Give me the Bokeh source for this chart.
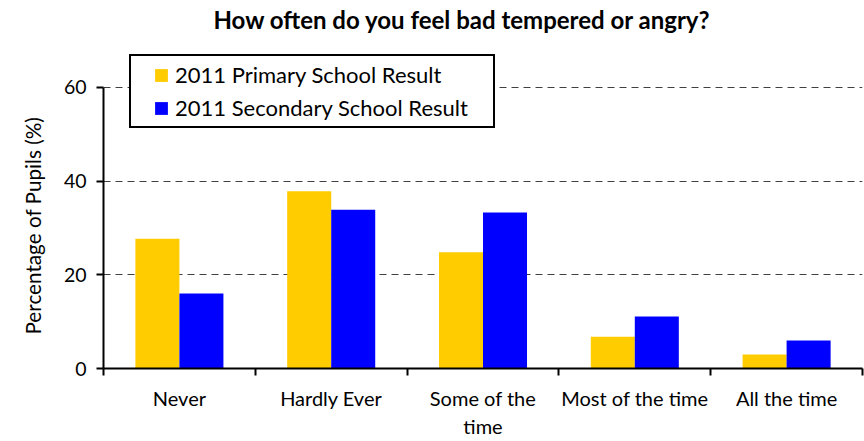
import numpy as np
from bokeh.plotting import figure
from bokeh.models import ColumnDataSource, FixedTicker, Legend, LegendItem, Range1d, Title
from bokeh.embed import file_html
from bokeh.resources import INLINE

categories = ["Never", "Hardly Ever", "Some of the\ntime", "Most of the time", "All the time"]
primary = [27.7, 37.8, 24.8, 6.8, 3.0]
secondary = [16.0, 33.9, 33.3, 11.1, 6.0]
series_names = ["2011 Primary School Result", "2011 Secondary School Result"]
y_ticks = [0, 20, 40, 60]

FONT = "Lato"
centers = np.arange(len(categories)) + 0.5
bw = 0.29

src = ColumnDataSource(dict(xp=centers - bw / 2, xs=centers + bw / 2, prim=primary, sec=secondary))

p = figure(width=864, height=441, output_backend="svg", toolbar_location=None,
           x_range=Range1d(0, len(categories)), y_range=Range1d(0, 71.06),
           min_border_left=103, min_border_right=2, min_border_top=35, min_border_bottom=60)
p.outline_line_color = None
p.background_fill_color = "white"

r1 = p.vbar(x="xp", top="prim", width=bw, source=src, fill_color="#FFCC00", line_color=None)
r2 = p.vbar(x="xs", top="sec", width=bw, source=src, fill_color="#0000FF", line_color=None)

title = Title(text="How often do you feel bad tempered or angry?", text_font=FONT,
              text_font_size="24px", text_font_style="bold", text_color="black",
              align="left", offset=110, standoff=3)
p.add_layout(title, "above")

# x axis
p.xaxis.ticker = FixedTicker(ticks=list(centers), minor_ticks=list(range(len(categories) + 1)))
p.xaxis.major_label_overrides = {float(c): lab for c, lab in zip(centers, categories)}
p.xaxis.major_tick_out = 0
p.xaxis.major_tick_in = 0
p.xaxis.minor_tick_out = 7
p.xaxis.minor_tick_in = 0
p.xaxis.minor_tick_line_width = 2
p.xaxis.axis_line_width = 2
p.xaxis.axis_line_color = "black"
p.xaxis.minor_tick_line_color = "black"
p.xaxis.major_label_text_font = FONT
p.xaxis.major_label_text_font_size = "20px"
p.xaxis.major_label_text_color = "black"
p.xaxis.major_label_standoff = 10

# y axis
p.yaxis.ticker = FixedTicker(ticks=y_ticks)
p.yaxis.bounds = (0, 60)
p.yaxis.minor_tick_line_color = None
p.yaxis.major_tick_out = 7
p.yaxis.major_tick_in = 0
p.yaxis.major_tick_line_width = 2
p.yaxis.axis_line_width = 2
p.yaxis.axis_line_color = "black"
p.yaxis.major_tick_line_color = "black"
p.yaxis.major_label_text_font = FONT
p.yaxis.major_label_text_font_size = "19.5px"
p.yaxis.major_label_text_color = "black"
p.yaxis.major_label_standoff = 10

# y axis title, placed as a side title so it can be centred on the 0-60 span
ytitle = Title(text="Percentage of Pupils (%)", text_font=FONT, text_font_size="20.7px",
               text_font_style="normal", text_color="black", align="left", offset=34, standoff=32)
p.add_layout(ytitle, "left")

p.xgrid.grid_line_color = None
p.ygrid.grid_line_color = "#404040"
p.ygrid.grid_line_dash = "7 5"
p.ygrid.grid_line_width = 1

legend = Legend(items=[LegendItem(label=series_names[0], renderers=[r1]),
                       LegendItem(label=series_names[1], renderers=[r2])],
                location=(26, 240), orientation="vertical",
                glyph_width=16, glyph_height=16, label_standoff=6, spacing=6,
                label_text_font=FONT, label_text_font_size="22px", label_text_color="black",
                label_height=20,
                border_line_color="black", border_line_alpha=1, border_line_width=2,
                background_fill_alpha=1, margin=0)
try:
    legend.padding = {"left": 22, "right": 25, "top": 5, "bottom": 5}
except Exception:
    legend.padding = 6
p.add_layout(legend, "center")

open("out.html", "w").write(file_html(p, INLINE))
